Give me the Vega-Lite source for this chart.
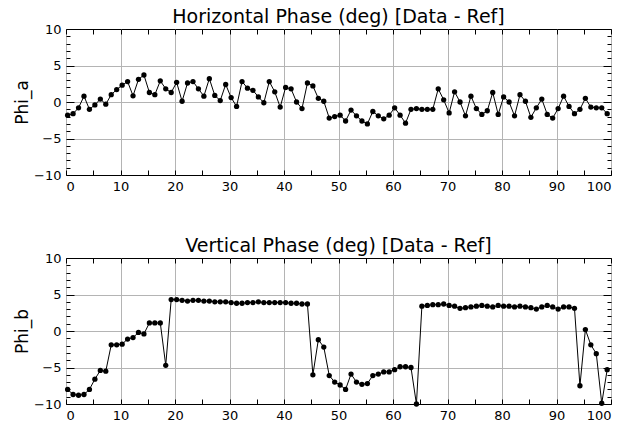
{
  "$schema": "https://vega.github.io/schema/vega-lite/v6.json",
  "autosize": {"type": "pad"},
  "padding": {"left": 13, "top": 7, "right": 5, "bottom": 5},
  "background": "white",
  "spacing": 83,
  "bounds": "flush",
  "config": {
    "view": {"stroke": "black", "strokeWidth": 1},
    "font": "DejaVu Sans",
    "title": {"fontSize": 19, "fontWeight": "normal", "color": "black", "offset": -4},
    "axis": {"domain": false, "labelColor": "black", "labelFontSize": 13, "labelFont": "DejaVu Sans", "tickColor": "black", "gridColor": "#b4b4b4", "gridWidth": 1, "titleColor": "black", "titleFontWeight": "normal", "titleFontSize": 17, "titleFont": "DejaVu Sans"}
  },
  "datasets": {
    "h": [
      {"x":0.3,"y":-1.8},{"x":1.3,"y":-1.6},{"x":2.3,"y":-0.8},{"x":3.3,"y":0.8},{"x":4.3,"y":-1.0},
      {"x":5.3,"y":-0.4},{"x":6.3,"y":0.4},{"x":7.3,"y":-0.3},{"x":8.3,"y":1.0},{"x":9.3,"y":1.7},
      {"x":10.3,"y":2.3},{"x":11.3,"y":2.8},{"x":12.3,"y":0.85},{"x":13.3,"y":3.1},{"x":14.3,"y":3.7},
      {"x":15.3,"y":1.3},{"x":16.3,"y":1.0},{"x":17.3,"y":2.9},{"x":18.3,"y":1.8},{"x":19.3,"y":1.3},
      {"x":20.3,"y":2.7},{"x":21.3,"y":0.1},{"x":22.3,"y":2.6},{"x":23.3,"y":2.8},{"x":24.3,"y":1.8},
      {"x":25.3,"y":0.8},{"x":26.3,"y":3.2},{"x":27.3,"y":0.9},{"x":28.3,"y":0.2},{"x":29.3,"y":2.4},
      {"x":30.3,"y":0.6},{"x":31.3,"y":-0.6},{"x":32.3,"y":2.8},{"x":33.3,"y":1.9},{"x":34.3,"y":1.6},
      {"x":35.3,"y":0.7},{"x":36.3,"y":-0.1},{"x":37.3,"y":2.8},{"x":38.3,"y":1.4},{"x":39.3,"y":-0.7},
      {"x":40.3,"y":2.0},{"x":41.3,"y":1.8},{"x":42.3,"y":0.0},{"x":43.3,"y":-0.9},{"x":44.3,"y":2.6},
      {"x":45.3,"y":2.2},{"x":46.3,"y":0.5},{"x":47.3,"y":0.1},{"x":48.3,"y":-2.2},{"x":49.3,"y":-2.0},
      {"x":50.3,"y":-1.8},{"x":51.3,"y":-2.6},{"x":52.3,"y":-1.1},{"x":53.3,"y":-1.9},{"x":54.3,"y":-2.6},
      {"x":55.3,"y":-3.0},{"x":56.3,"y":-1.3},{"x":57.3,"y":-1.9},{"x":58.3,"y":-2.3},{"x":59.3,"y":-1.8},
      {"x":60.3,"y":-0.8},{"x":61.3,"y":-1.8},{"x":62.3,"y":-2.9},{"x":63.3,"y":-1.0},{"x":64.3,"y":-0.9},
      {"x":65.3,"y":-1.0},{"x":66.3,"y":-1.0},{"x":67.3,"y":-1.0},{"x":68.3,"y":1.8},{"x":69.3,"y":0.3},
      {"x":70.3,"y":-1.5},{"x":71.3,"y":1.4},{"x":72.3,"y":0.0},{"x":73.3,"y":-1.9},{"x":74.3,"y":0.8},
      {"x":75.3,"y":-0.9},{"x":76.3,"y":-1.7},{"x":77.3,"y":-1.2},{"x":78.3,"y":1.3},{"x":79.3,"y":-1.7},
      {"x":80.3,"y":0.7},{"x":81.3,"y":0.0},{"x":82.3,"y":-1.9},{"x":83.3,"y":1.0},{"x":84.3,"y":0.1},
      {"x":85.3,"y":-2.1},{"x":86.3,"y":-0.8},{"x":87.3,"y":0.4},{"x":88.3,"y":-1.7},{"x":89.3,"y":-2.2},
      {"x":90.3,"y":-0.9},{"x":91.3,"y":0.8},{"x":92.3,"y":-0.6},{"x":93.3,"y":-1.6},{"x":94.3,"y":-1.0},
      {"x":95.3,"y":0.5},{"x":96.3,"y":-0.7},{"x":97.3,"y":-0.8},{"x":98.3,"y":-0.8},{"x":99.3,"y":-1.6}
    ],
    "v": [
      {"x":0.3,"y":-8.0},{"x":1.3,"y":-8.7},{"x":2.3,"y":-8.8},{"x":3.3,"y":-8.7},{"x":4.3,"y":-8.0},
      {"x":5.3,"y":-6.6},{"x":6.3,"y":-5.4},{"x":7.3,"y":-5.5},{"x":8.3,"y":-1.9},{"x":9.3,"y":-1.9},
      {"x":10.3,"y":-1.8},{"x":11.3,"y":-1.1},{"x":12.3,"y":-0.9},{"x":13.3,"y":-0.2},{"x":14.3,"y":-0.4},
      {"x":15.3,"y":1.1},{"x":16.3,"y":1.1},{"x":17.3,"y":1.1},{"x":18.3,"y":-4.7},{"x":19.3,"y":4.3},
      {"x":20.3,"y":4.3},{"x":21.3,"y":4.2},{"x":22.3,"y":4.1},{"x":23.3,"y":4.2},{"x":24.3,"y":4.2},
      {"x":25.3,"y":4.1},{"x":26.3,"y":4.1},{"x":27.3,"y":4.0},{"x":28.3,"y":4.0},{"x":29.3,"y":4.0},
      {"x":30.3,"y":3.9},{"x":31.3,"y":3.8},{"x":32.3,"y":3.8},{"x":33.3,"y":3.9},{"x":34.3,"y":3.9},
      {"x":35.3,"y":4.0},{"x":36.3,"y":3.9},{"x":37.3,"y":3.9},{"x":38.3,"y":3.9},{"x":39.3,"y":3.9},
      {"x":40.3,"y":3.9},{"x":41.3,"y":3.8},{"x":42.3,"y":3.8},{"x":43.3,"y":3.7},{"x":44.3,"y":3.7},
      {"x":45.3,"y":-6.0},{"x":46.3,"y":-1.2},{"x":47.3,"y":-2.2},{"x":48.3,"y":-6.1},{"x":49.3,"y":-7.0},
      {"x":50.3,"y":-7.4},{"x":51.3,"y":-8.0},{"x":52.3,"y":-5.9},{"x":53.3,"y":-7.0},{"x":54.3,"y":-7.3},
      {"x":55.3,"y":-7.2},{"x":56.3,"y":-6.1},{"x":57.3,"y":-5.9},{"x":58.3,"y":-5.6},{"x":59.3,"y":-5.6},
      {"x":60.3,"y":-5.3},{"x":61.3,"y":-4.9},{"x":62.3,"y":-4.9},{"x":63.3,"y":-5.0},{"x":64.3,"y":-10.0},
      {"x":65.3,"y":3.4},{"x":66.3,"y":3.5},{"x":67.3,"y":3.6},{"x":68.3,"y":3.6},{"x":69.3,"y":3.7},
      {"x":70.3,"y":3.5},{"x":71.3,"y":3.4},{"x":72.3,"y":3.1},{"x":73.3,"y":3.2},{"x":74.3,"y":3.3},
      {"x":75.3,"y":3.4},{"x":76.3,"y":3.5},{"x":77.3,"y":3.4},{"x":78.3,"y":3.3},{"x":79.3,"y":3.5},
      {"x":80.3,"y":3.4},{"x":81.3,"y":3.4},{"x":82.3,"y":3.3},{"x":83.3,"y":3.4},{"x":84.3,"y":3.3},
      {"x":85.3,"y":3.2},{"x":86.3,"y":3.0},{"x":87.3,"y":3.3},{"x":88.3,"y":3.5},{"x":89.3,"y":3.3},
      {"x":90.3,"y":3.0},{"x":91.3,"y":3.3},{"x":92.3,"y":3.3},{"x":93.3,"y":3.1},{"x":94.3,"y":-7.5},
      {"x":95.3,"y":0.2},{"x":96.3,"y":-1.9},{"x":97.3,"y":-3.1},{"x":98.3,"y":-9.9},{"x":99.3,"y":-5.3}
    ]
  },
  "vconcat": [
    {
      "width": 545, "height": 146,
      "title": "Horizontal Phase (deg) [Data - Ref]",
      "data": {"name": "h"},
      "layer": [
        {
          "mark": {"type": "line", "color": "black", "strokeWidth": 1, "clip": false, "point": {"filled": true, "color": "black", "size": 28}},
          "encoding": {
            "x": {"field": "x", "type": "quantitative", "scale": {"domain": [0, 100], "nice": false},
              "axis": {"orient": "bottom", "title": null, "values": [0,5,10,15,20,25,30,35,40,45,50,55,60,65,70,75,80,85,90,95,100],
                "labelExpr": "datum.value % 10 === 0 ? datum.label : ''", "tickSize": -5, "labelPadding": 10,
                "grid": true, "gridOpacity": {"condition": {"test": "datum.value % 10 !== 0", "value": 0}, "value": 1}}},
            "y": {"field": "y", "type": "quantitative", "scale": {"domain": [-10, 10], "nice": false},
              "axis": {"orient": "left", "title": "Phi_a", "values": [-10,-9,-8,-7,-6,-5,-4,-3,-2,-1,0,1,2,3,4,5,6,7,8,9,10],
                "labelExpr": "datum.value % 5 === 0 ? datum.label : ''",
                "tickSize": {"condition": {"test": "datum.value % 5 !== 0", "value": -4}, "value": -8}, "labelPadding": 13, "titlePadding": 2,
                "grid": true, "gridOpacity": {"condition": {"test": "datum.value % 5 !== 0 || abs(datum.value) === 10", "value": 0}, "value": 1}}}
          }
        },
        {
          "mark": {"type": "point", "opacity": 0},
          "encoding": {
            "x": {"field": "x", "type": "quantitative", "scale": {"domain": [0, 100], "nice": false},
              "axis": {"orient": "top", "title": null, "labels": false, "grid": false, "tickSize": -5, "values": [0,5,10,15,20,25,30,35,40,45,50,55,60,65,70,75,80,85,90,95,100]}},
            "y": {"field": "y", "type": "quantitative", "scale": {"domain": [-10, 10], "nice": false},
              "axis": {"orient": "right", "title": null, "labels": false, "grid": false, "values": [-10,-9,-8,-7,-6,-5,-4,-3,-2,-1,0,1,2,3,4,5,6,7,8,9,10],
                "tickSize": {"condition": {"test": "datum.value % 5 !== 0", "value": -4}, "value": -8}}}
          }
        }
      ],
      "resolve": {"axis": {"x": "independent", "y": "independent"}}
    },
    {
      "width": 545, "height": 146,
      "title": "Vertical Phase (deg) [Data - Ref]",
      "data": {"name": "v"},
      "layer": [
        {
          "mark": {"type": "line", "color": "black", "strokeWidth": 1, "clip": false, "point": {"filled": true, "color": "black", "size": 28}},
          "encoding": {
            "x": {"field": "x", "type": "quantitative", "scale": {"domain": [0, 100], "nice": false},
              "axis": {"orient": "bottom", "title": null, "values": [0,5,10,15,20,25,30,35,40,45,50,55,60,65,70,75,80,85,90,95,100],
                "labelExpr": "datum.value % 10 === 0 ? datum.label : ''", "tickSize": -5, "labelPadding": 10,
                "grid": true, "gridOpacity": {"condition": {"test": "datum.value % 10 !== 0", "value": 0}, "value": 1}}},
            "y": {"field": "y", "type": "quantitative", "scale": {"domain": [-10, 10], "nice": false},
              "axis": {"orient": "left", "title": "Phi_b", "values": [-10,-9,-8,-7,-6,-5,-4,-3,-2,-1,0,1,2,3,4,5,6,7,8,9,10],
                "labelExpr": "datum.value % 5 === 0 ? datum.label : ''",
                "tickSize": {"condition": {"test": "datum.value % 5 !== 0", "value": -4}, "value": -8}, "labelPadding": 13, "titlePadding": 2,
                "grid": true, "gridOpacity": {"condition": {"test": "datum.value % 5 !== 0 || abs(datum.value) === 10", "value": 0}, "value": 1}}}
          }
        },
        {
          "mark": {"type": "point", "opacity": 0},
          "encoding": {
            "x": {"field": "x", "type": "quantitative", "scale": {"domain": [0, 100], "nice": false},
              "axis": {"orient": "top", "title": null, "labels": false, "grid": false, "tickSize": -5, "values": [0,5,10,15,20,25,30,35,40,45,50,55,60,65,70,75,80,85,90,95,100]}},
            "y": {"field": "y", "type": "quantitative", "scale": {"domain": [-10, 10], "nice": false},
              "axis": {"orient": "right", "title": null, "labels": false, "grid": false, "values": [-10,-9,-8,-7,-6,-5,-4,-3,-2,-1,0,1,2,3,4,5,6,7,8,9,10],
                "tickSize": {"condition": {"test": "datum.value % 5 !== 0", "value": -4}, "value": -8}}}
          }
        }
      ],
      "resolve": {"axis": {"x": "independent", "y": "independent"}}
    }
  ]
}
